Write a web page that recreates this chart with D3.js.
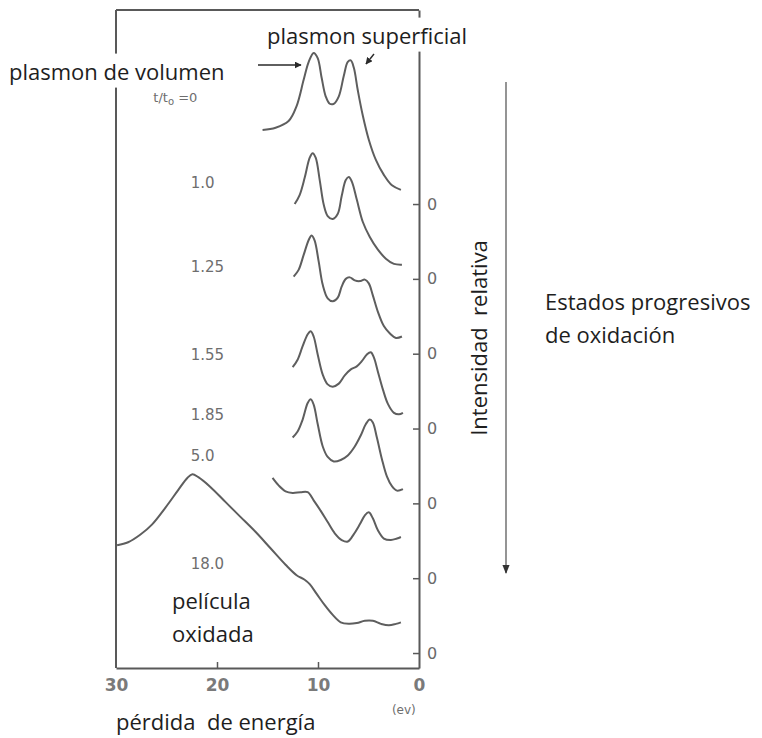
<!DOCTYPE html>
<html>
<head>
<meta charset="utf-8">
<script src="https://cdn.jsdelivr.net/npm/d3@7"></script>
<style>
  html, body { margin: 0; padding: 0; background: #fff; }
  svg { display: block; }
  .note { font-family: "Open Sans", sans-serif; font-size: 22px; fill: #1e1e1e; white-space: pre; }
  .fig { font-family: "DejaVu Sans", sans-serif; fill: #6e6e6e; }
</style>
</head>
<body>
<svg id="chart" width="762" height="738"></svg>
<script>
// Energy-loss spectra (eV, relative intensity) at successive oxidation stages t/t0.
const energyTicks = [30, 20, 10, 0];
const stageLabels = ["t/t\u2080=0", "1.0", "1.25", "1.55", "1.85", "5.0", "18.0"];

const stage0 = [[15.49,0.99],[14.20,1.02],[12.91,1.11],[12.12,1.31],[11.42,1.66],[10.92,1.90],[10.43,2.02],[10.03,1.95],
  [9.63,1.68],[9.24,1.44],[8.84,1.34],[8.44,1.34],[7.94,1.44],[7.45,1.71],[7.05,1.90],[6.75,1.92],[6.45,1.82],[6.06,1.52],
  [5.56,1.18],[4.97,0.86],[4.27,0.59],[3.48,0.39],[2.68,0.25],[1.79,0.19]];
const stage1_0 = [[12.31,1.00],[11.82,1.12],[11.32,1.35],[10.82,1.62],[10.53,1.68],[10.23,1.62],[9.83,1.32],[9.43,0.99],
  [9.04,0.84],[8.54,0.80],[8.04,0.87],[7.65,1.11],[7.25,1.32],[6.95,1.36],[6.65,1.30],[6.16,1.06],[5.56,0.76],[4.87,0.56],
  [4.07,0.39],[3.28,0.27],[2.48,0.20],[1.69,0.19]];
const stage1_25 = [[12.41,1.03],[11.92,1.12],[11.42,1.32],[10.92,1.52],[10.63,1.58],[10.33,1.51],[9.93,1.23],[9.53,0.92],
  [9.04,0.74],[8.54,0.70],[8.04,0.75],[7.65,0.90],[7.25,1.00],[6.85,1.02],[6.36,0.98],[5.86,0.97],[5.36,0.99],[4.97,0.94],
  [4.57,0.78],[4.07,0.56],[3.48,0.37],[2.88,0.27],[2.28,0.21],[1.69,0.23]];
const stage1_55 = [[12.51,0.82],[12.02,0.92],[11.52,1.10],[11.02,1.26],[10.72,1.30],[10.43,1.23],[10.03,0.99],[9.53,0.72],
  [9.04,0.59],[8.54,0.56],[7.94,0.60],[7.35,0.71],[6.75,0.79],[6.16,0.83],[5.66,0.90],[5.16,0.99],[4.77,1.02],[4.47,0.95],
  [4.07,0.76],[3.57,0.52],[3.08,0.33],[2.48,0.21],[1.99,0.19],[1.59,0.21]];
const stage1_85 = [[12.51,0.88],[12.02,0.96],[11.52,1.12],[11.02,1.34],[10.72,1.39],[10.43,1.32],[10.03,1.06],[9.53,0.76],
  [9.04,0.62],[8.44,0.56],[7.75,0.58],[7.05,0.64],[6.36,0.76],[5.76,0.91],[5.26,1.06],[4.87,1.12],[4.57,1.08],[4.17,0.88],
  [3.67,0.59],[3.18,0.36],[2.68,0.23],[2.18,0.17],[1.59,0.19]];
const stage5_0 = [[14.50,1.34],[13.90,1.24],[13.21,1.16],[12.51,1.14],[11.72,1.15],[11.02,1.15],[10.43,1.04],[9.73,0.90],
  [9.04,0.75],[8.34,0.60],[7.65,0.51],[7.05,0.49],[6.45,0.59],[5.86,0.72],[5.36,0.84],[4.97,0.88],[4.57,0.80],[4.07,0.64],
  [3.48,0.53],[2.78,0.51],[2.18,0.53],[1.79,0.55]];
const stage18_0 = [[29.89,1.44],[28.80,1.48],[27.61,1.58],[26.42,1.72],[25.12,1.94],[23.83,2.18],[22.94,2.34],[22.44,2.39],
  [21.85,2.35],[20.66,2.22],[19.17,2.02],[17.68,1.82],[16.19,1.62],[14.70,1.40],[13.21,1.18],[12.12,1.04],[11.32,0.98],
  [10.82,0.92],[10.13,0.79],[9.33,0.64],[8.54,0.51],[7.75,0.41],[6.95,0.39],[6.16,0.40],[5.36,0.43],[4.57,0.43],[3.77,0.39],
  [2.98,0.37],[2.28,0.39],[1.79,0.41]];

const stages = [stage0, stage1_0, stage1_25, stage1_55, stage1_85, stage5_0, stage18_0];

// Label anchors for each spectrum: [energy, height above its own zero line]
const labelAnchors = [[26.3,1.43],[22.6,1.28],[22.6,1.16],[22.6,0.99],[22.6,1.19],[22.6,1.64],[22.6,1.20]];

const svg = d3.select("#chart");
const frame = { left: 116, right: 419, top: 10, bottom: 668 };

const x = d3.scaleLinear().domain([30, 0]).range([frame.left, frame.right]);
// Spectra are stacked: spectrum i sits on the zero line at -i.
const y = d3.scaleLinear().domain([-6.2, 2.593]).range([frame.bottom, frame.top]);

const ink = "#595959";

// Frame: left and top edges
svg.append("line").attr("x1", frame.left).attr("x2", frame.left).attr("y1", frame.top).attr("y2", frame.bottom)
  .attr("stroke", ink).attr("stroke-width", 2);
svg.append("line").attr("x1", frame.left).attr("x2", frame.right).attr("y1", frame.top).attr("y2", frame.top)
  .attr("stroke", ink).attr("stroke-width", 2);

// Energy axis along the bottom
const xAxis = svg.append("g").attr("transform", `translate(0,${frame.bottom})`)
  .call(d3.axisBottom(x).tickValues(energyTicks).tickSize(-6).tickSizeOuter(0).tickPadding(11).tickFormat(d3.format("d")));
xAxis.select(".domain").attr("stroke", ink).attr("stroke-width", 2);
xAxis.selectAll(".tick line").attr("stroke", ink).attr("stroke-width", 1.5)
  .filter(d => d === 30 || d === 0).remove();
xAxis.selectAll(".tick text").attr("class", "fig").style("font-size", "17px").style("font-weight", "bold")
  .style("fill", "#7a7a7a").attr("font-family", null);

// Zero line of each spectrum marked on the right edge
const zeroLevels = stages.map((_, i) => -i);
const yAxis = svg.append("g").attr("transform", `translate(${frame.right},0)`)
  .call(d3.axisRight(y).tickValues(zeroLevels).tickSize(-6).tickSizeOuter(0).tickPadding(8).tickFormat(() => "0"));
yAxis.select(".domain").attr("stroke", ink).attr("stroke-width", 2);
yAxis.selectAll(".tick line").attr("stroke", ink).attr("stroke-width", 1.5);
yAxis.selectAll(".tick text").attr("class", "fig").style("font-size", "16px")
  .style("fill", "#6a6a6a").attr("font-family", null);

// Spectra
const line = d3.line().curve(d3.curveCatmullRom.alpha(0.5));
svg.append("g").selectAll("path").data(stages).join("path")
  .attr("d", (pts, i) => line(pts.map(([e, v]) => [x(e), y(v - i)])))
  .attr("fill", "none").attr("stroke", "#5e5e5e").attr("stroke-width", 2).attr("stroke-linejoin", "round");

// Stage labels t/t0
const labels = svg.append("g");
labels.selectAll("text").data(stageLabels.slice(1)).join("text")
  .attr("class", "fig").style("font-size", "15px")
  .attr("x", (d, i) => x(labelAnchors[i + 1][0]))
  .attr("y", (d, i) => y(labelAnchors[i + 1][1] - (i + 1)))
  .attr("dy", "0.36em")
  .text(d => d);
const first = labels.append("text").attr("class", "fig").style("font-size", "13px")
  .attr("x", x(labelAnchors[0][0])).attr("y", y(labelAnchors[0][1])).attr("dy", "0.36em");
first.append("tspan").text("t/t");
first.append("tspan").attr("dy", "3").style("font-size", "10px").text("o");
first.append("tspan").attr("dy", "-3").text(" =0");

// Unit label
svg.append("text").attr("class", "fig").style("font-size", "12px")
  .attr("x", x(1.5)).attr("y", 710).attr("text-anchor", "middle").attr("dy", "0.35em").text("(ev)");

// Annotations
function note(txt, cx, cy, anchor) {
  return svg.append("text").attr("class", "note").attr("x", cx).attr("y", cy)
    .attr("dy", "0.3em").attr("text-anchor", anchor || "start").text(txt);
}
function backed(txt, cx, cy, anchor, pad) {
  const g = svg.append("g");
  const t = g.append("text").attr("class", "note").attr("x", cx).attr("y", cy)
    .attr("dy", "0.3em").attr("text-anchor", anchor || "start").text(txt);
  const b = t.node().getBBox();
  g.insert("rect", "text").attr("x", b.x - pad).attr("y", b.y - 2).attr("width", b.width + 2 * pad)
    .attr("height", b.height + 4).attr("fill", "#fff");
  return g;
}

backed("plasmon superficial", 267, 37, "start", 3);
backed("plasmon de volumen", 9, 73, "start", 4);

// Pointer arrows to the two plasmon peaks
const defs = svg.append("defs");
defs.append("marker").attr("id", "head").attr("viewBox", "0 0 10 10").attr("refX", 9).attr("refY", 5)
  .attr("markerWidth", 7).attr("markerHeight", 7).attr("markerUnits", "userSpaceOnUse").attr("orient", "auto")
  .append("path").attr("d", "M0,0 L10,5 L0,10 Z").attr("fill", "#2a2a2a");
defs.append("marker").attr("id", "head2").attr("viewBox", "0 0 10 10").attr("refX", 9).attr("refY", 5)
  .attr("markerWidth", 9).attr("markerHeight", 9).attr("markerUnits", "userSpaceOnUse").attr("orient", "auto")
  .append("path").attr("d", "M0,1 L10,5 L0,9 Z").attr("fill", "#333");

svg.append("line").attr("x1", 258).attr("y1", 65).attr("x2", 301).attr("y2", 65)
  .attr("stroke", "#2a2a2a").attr("stroke-width", 1.4).attr("marker-end", "url(#head)");
svg.append("line").attr("x1", 374).attr("y1", 54).attr("x2", 366).attr("y2", 64)
  .attr("stroke", "#2a2a2a").attr("stroke-width", 1.4).attr("marker-end", "url(#head)");

note("película", 172, 602);
note("oxidada", 172, 635);
note("pérdida  de energía", 116, 723);
note("Estados progresivos", 545, 303);
note("de oxidación", 545, 336);

svg.append("text").attr("class", "note")
  .attr("transform", "translate(480,338) rotate(-90)")
  .attr("text-anchor", "middle").attr("dy", "0.3em").text("Intensidad  relativa");

// Direction of progressive oxidation
svg.append("line").attr("x1", 506).attr("y1", 82).attr("x2", 506).attr("y2", 573)
  .attr("stroke", "#7a7a7a").attr("stroke-width", 1.6).attr("marker-end", "url(#head2)");
</script>
</body>
</html>
